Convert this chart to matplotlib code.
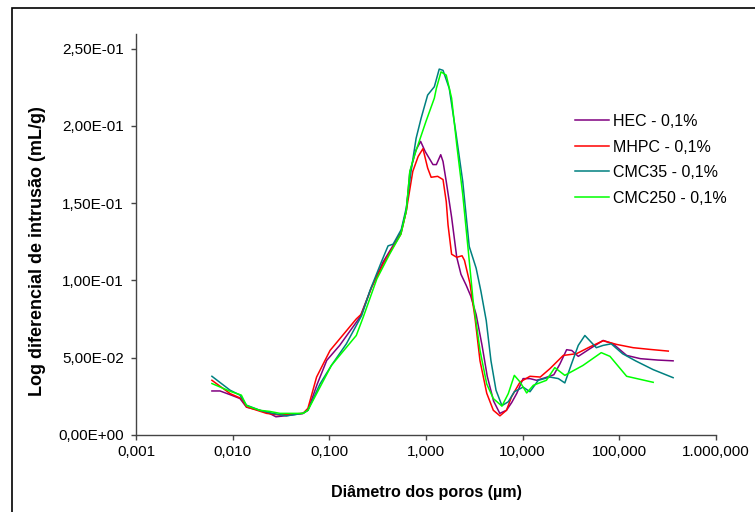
import matplotlib
matplotlib.use("Agg")
import matplotlib.pyplot as plt
from matplotlib.ticker import FuncFormatter, FixedLocator, NullLocator
from matplotlib.patches import Rectangle

plt.rcParams['font.family'] = ['Liberation Sans', 'DejaVu Sans']

# pore diameter (um) / log differential intrusion (mL/g)
hec_x = [0.0061, 0.0074, 0.0095, 0.0119, 0.0139, 0.019, 0.024, 0.028, 0.036, 0.0534,
         0.060, 0.075, 0.094, 0.128, 0.207, 0.273, 0.36, 0.45, 0.55, 0.625,
         0.68, 0.79, 0.88, 0.98, 1.18, 1.28, 1.42, 1.50, 1.62, 1.84,
         2.08, 2.3, 2.6, 2.9, 3.3, 3.8, 4.3, 5.0, 5.8, 6.8,
         7.7, 8.7, 10.1, 11.9, 13.9, 17.0, 21.0, 24.3, 28.5, 32.2,
         37.6, 49.5, 68, 86, 119, 165, 250, 360]
hec_y = [0.0285, 0.0285, 0.026, 0.0236, 0.018, 0.016, 0.014, 0.0118, 0.0125, 0.014,
         0.016, 0.033, 0.0483, 0.058, 0.0762, 0.0955, 0.112, 0.122, 0.131, 0.145,
         0.17, 0.1846, 0.19, 0.1835, 0.175, 0.175, 0.1814, 0.177, 0.164, 0.141,
         0.115, 0.104, 0.097, 0.09, 0.078, 0.058, 0.038, 0.022, 0.014, 0.016,
         0.021, 0.027, 0.0365, 0.0365, 0.0354, 0.037, 0.039, 0.046, 0.0552, 0.0547,
         0.0509, 0.0558, 0.0612, 0.059, 0.0515, 0.0494, 0.0485, 0.048]

mhpc_x = [0.0061, 0.0094, 0.0123, 0.0139, 0.0224, 0.0308, 0.0534, 0.060, 0.0738, 0.1017,
          0.128, 0.19, 0.216, 0.273, 0.36, 0.45, 0.55, 0.625, 0.73, 0.83,
          0.93, 1.04, 1.13, 1.32, 1.50, 1.62, 1.69, 1.84, 2.08, 2.36,
          2.5, 2.85, 3.21, 3.62, 4.25, 4.97, 5.82, 6.8, 7.67, 9.4,
          11.9, 15.2, 19.2, 26.3, 36, 49.5, 68, 94, 139, 207, 321]
mhpc_y = [0.0354, 0.0268, 0.0236, 0.0182, 0.014, 0.0129, 0.014, 0.0172, 0.0375, 0.0547,
          0.0622, 0.0751, 0.0784, 0.0955, 0.1106, 0.121, 0.13, 0.145, 0.1706, 0.1803,
          0.1853, 0.1728, 0.1668, 0.1674, 0.1653, 0.151, 0.136, 0.117, 0.115, 0.116,
          0.113, 0.098, 0.076, 0.048, 0.027, 0.016, 0.0124, 0.016, 0.0247, 0.0343,
          0.038, 0.0375, 0.043, 0.0515, 0.0526, 0.057, 0.061, 0.0586, 0.0565, 0.0554, 0.0543]

cmc35_x = [0.0061, 0.0094, 0.0119, 0.0139, 0.0191, 0.026, 0.036, 0.0534, 0.060, 0.080,
           0.105, 0.15, 0.216, 0.263, 0.349, 0.405, 0.457, 0.555, 0.625, 0.70,
           0.79, 0.89, 1.04, 1.22, 1.37, 1.50, 1.74, 2.03, 2.4, 2.8,
           3.3, 3.7, 4.2, 4.7, 5.3, 6.1, 7.1, 8.2, 10.1, 11.9, 14.5, 19.2,
           23.4, 27.3, 32, 37.6, 44, 49.5, 57.8, 68, 82.5, 108, 147, 224, 360]
cmc35_y = [0.038, 0.029, 0.0258, 0.0193, 0.016, 0.014, 0.0124, 0.014, 0.016, 0.033,
           0.045, 0.059, 0.0773, 0.0934, 0.1127, 0.1224, 0.1235, 0.133, 0.147, 0.1706,
           0.192, 0.205, 0.22, 0.2254, 0.2368, 0.236, 0.2243, 0.1964, 0.164, 0.122,
           0.108, 0.093, 0.074, 0.048, 0.029, 0.019, 0.0215, 0.028, 0.031, 0.028, 0.0354, 0.0375,
           0.0365, 0.0337, 0.046, 0.058, 0.0644, 0.061, 0.0565, 0.058, 0.059, 0.0526, 0.048, 0.0423, 0.0371]

cmc250_x = [0.0061, 0.0094, 0.0123, 0.0139, 0.019, 0.024, 0.0308, 0.0534, 0.060, 0.105,
            0.19, 0.224, 0.31, 0.42, 0.55, 0.625, 0.68, 0.76, 1.0, 1.22,
            1.28, 1.43, 1.62, 1.84, 2.08, 2.4, 2.74, 3.07, 3.62, 4.25,
            4.97, 6.1, 7.1, 8.2, 9.4, 11.0, 12.9, 17.6, 21.5, 27.3,
            42, 65, 80, 119, 224]
cmc250_y = [0.0333, 0.0283, 0.0258, 0.019, 0.016, 0.0153, 0.014, 0.014, 0.016, 0.045,
            0.0644, 0.0762, 0.101, 0.117, 0.13, 0.145, 0.1706, 0.181, 0.203, 0.218,
            0.2243, 0.235, 0.2329, 0.218, 0.1878, 0.1556, 0.119, 0.087, 0.0547, 0.033,
            0.0236, 0.0187, 0.0268, 0.0386, 0.0343, 0.0272, 0.0322, 0.0354, 0.0436, 0.0386,
            0.045, 0.0533, 0.0509, 0.038, 0.0341]

labels = ["HEC - 0,1%", "MHPC - 0,1%", "CMC35 - 0,1%", "CMC250 - 0,1%"]
colors = ["#800080", "#FF0000", "#008080", "#00FF00"]

x_ticks = [0.001, 0.01, 0.1, 1, 10, 100, 1000]
y_ticks = [0.0, 0.05, 0.10, 0.15, 0.20, 0.25]


def fmt_x(v, pos):
    s = f"{v:,.3f}"
    return s.replace(",", "X").replace(".", ",").replace("X", ".")


def fmt_y(v, pos):
    return f"{v:.2E}".replace(".", ",")


fig = plt.figure(figsize=(7.55, 5.12), dpi=100)
ax = fig.add_axes([136 / 755, 1 - 435 / 512, 580 / 755, 401 / 512])

series = [(hec_x, hec_y), (mhpc_x, mhpc_y), (cmc35_x, cmc35_y), (cmc250_x, cmc250_y)]
for (xs, ys), lab, col in zip(series, labels, colors):
    ax.plot(xs, ys, color=col, lw=1.1, label=lab)

ax.set_xscale('log')
ax.set_xlim(0.001, 1000)
ax.set_ylim(0, 0.25 + 14.7 * 0.25 / 386.3)
ax.xaxis.set_major_locator(FixedLocator(x_ticks))
ax.xaxis.set_minor_locator(NullLocator())
ax.xaxis.set_major_formatter(FuncFormatter(fmt_x))
ax.yaxis.set_major_locator(FixedLocator(y_ticks))
ax.yaxis.set_major_formatter(FuncFormatter(fmt_y))

for s in ['top', 'right']:
    ax.spines[s].set_visible(False)
for s in ['left', 'bottom']:
    ax.spines[s].set_color('#444444')
    ax.spines[s].set_linewidth(1.0)
ax.tick_params(axis='x', direction='out', length=3.6, width=1.0, color='#444444',
               labelsize=11, pad=3.5)
ax.tick_params(axis='y', direction='out', length=3.6, width=1.0, color='#444444',
               labelsize=11, pad=5)

ax.set_xlabel("Diâmetro dos poros (µm)", fontsize=11.6, fontweight='bold')
ax.xaxis.set_label_coords(0.5, -0.125)
ax.set_ylabel("Log diferencial de intrusão (mL/g)", fontsize=13, fontweight='bold')
ax.yaxis.set_label_coords(-(136 - 46) / 580, 0.4576)

ax.legend(loc='upper left', bbox_to_anchor=(575 / 755, 1 - 114 / 512),
          bbox_transform=fig.transFigure, frameon=False, borderpad=0,
          borderaxespad=0, handlelength=2.1, handletextpad=0.25,
          labelspacing=0.66, prop={'size': 11.5})

fig.patches.append(Rectangle((12 / 755, -0.5), 2, 0.5 + 1 - 8 / 512, fill=False,
                             edgecolor='black', lw=1.2, transform=fig.transFigure))

fig.savefig("out.png", dpi=100)
